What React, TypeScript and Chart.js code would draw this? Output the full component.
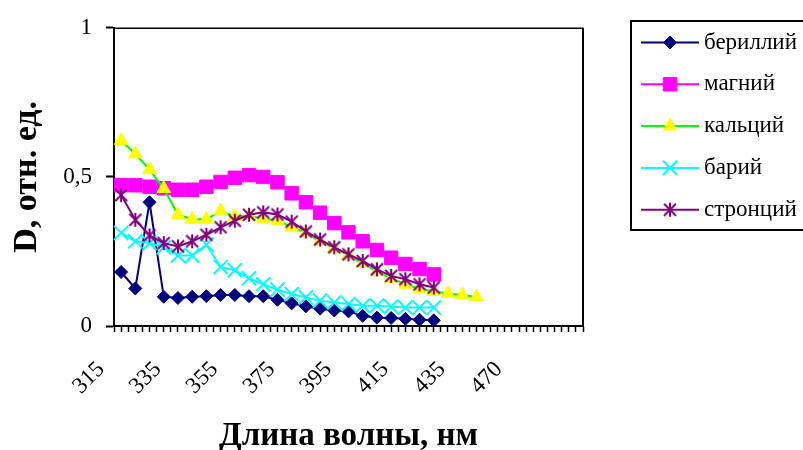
import React, { useEffect, useRef } from 'react';
import { Chart, registerables } from 'chart.js';
import { drawPoint } from 'chart.js/helpers';

Chart.register(...registerables);

// x-axis: category slots (2.5 nm each), labels shown every 8 slots, measurements every 2 slots
const tickLabels = ['315', '335', '355', '375', '395', '415', '435', '470'];
const categoryCount = 67;
const labelEvery = 8;
const pointEvery = 2;
const firstPointSlot = 1;

const seriesNames = ['бериллий', 'магний', 'кальций', 'барий', 'стронций'];

const beryllium = [0.181, 0.126, 0.415, 0.098, 0.094, 0.098, 0.1, 0.104, 0.104, 0.1, 0.1, 0.088, 0.076, 0.066, 0.058, 0.052, 0.049, 0.034, 0.028, 0.027, 0.024, 0.021, 0.019];
const magnesium = [0.472, 0.472, 0.467, 0.462, 0.457, 0.457, 0.467, 0.483, 0.497, 0.506, 0.5, 0.482, 0.445, 0.415, 0.38, 0.345, 0.314, 0.284, 0.255, 0.229, 0.208, 0.191, 0.173];
const calcium = [0.622, 0.577, 0.524, 0.461, 0.373, 0.358, 0.358, 0.386, 0.367, 0.37, 0.36, 0.354, 0.332, 0.313, 0.284, 0.26, 0.237, 0.21, 0.182, 0.16, 0.14, 0.125, 0.116, 0.109, 0.104, 0.097];
const barium = [0.312, 0.284, 0.278, 0.264, 0.236, 0.236, 0.273, 0.198, 0.187, 0.16, 0.14, 0.122, 0.107, 0.096, 0.085, 0.079, 0.074, 0.068, 0.068, 0.065, 0.062, 0.062, 0.062];
const strontium = [0.439, 0.356, 0.304, 0.278, 0.267, 0.284, 0.306, 0.331, 0.353, 0.373, 0.381, 0.374, 0.35, 0.317, 0.29, 0.264, 0.24, 0.218, 0.19, 0.168, 0.157, 0.14, 0.129];

const yTicks = [0, 0.5, 1];

const categories = Array.from({ length: categoryCount }, (_, i) =>
  i % labelEvery === 0 && tickLabels[i / labelEvery] !== undefined ? tickLabels[i / labelEvery] : ''
);

function spread(values: number[]) {
  const arr: (number | null)[] = new Array(categoryCount).fill(null);
  values.forEach((v, k) => {
    arr[firstPointSlot + k * pointEvery] = v;
  });
  return arr;
}

const SERIF = '"Liberation Serif", "Times New Roman", serif';

function makeStar(color: string) {
  const c = document.createElement('canvas');
  c.width = 16;
  c.height = 16;
  const g = c.getContext('2d')!;
  g.strokeStyle = color;
  g.lineWidth = 2;
  g.beginPath();
  g.moveTo(2, 2);
  g.lineTo(14, 14);
  g.moveTo(14, 2);
  g.lineTo(2, 14);
  g.moveTo(8, 1);
  g.lineTo(8, 15);
  g.stroke();
  return c;
}

const frame = {
  id: 'frame',
  afterDraw(chart: any) {
    const { ctx, chartArea } = chart;
    ctx.save();
    ctx.strokeStyle = '#000';
    ctx.lineWidth = 1.5;
    ctx.beginPath();
    ctx.moveTo(chartArea.left, chartArea.top + 0.5);
    ctx.lineTo(chartArea.right, chartArea.top + 0.5);
    ctx.stroke();
    ctx.lineWidth = 2;
    ctx.beginPath();
    ctx.moveTo(chartArea.right, chartArea.top);
    ctx.lineTo(chartArea.right, chartArea.bottom);
    ctx.stroke();
    ctx.restore();
  },
};

const boxLegend = {
  id: 'boxLegend',
  afterDraw(chart: any) {
    const { ctx } = chart;
    const bx = 631, by = 21, bw = 200, bh = 209;
    ctx.save();
    ctx.fillStyle = '#fff';
    ctx.fillRect(bx, by, bw, bh);
    ctx.strokeStyle = '#000';
    ctx.lineWidth = 2;
    ctx.strokeRect(bx, by, bw, bh);
    chart.data.datasets.forEach((ds: any, i: number) => {
      const cy = 42.5 + i * 41.8;
      ctx.strokeStyle = ds.borderColor;
      ctx.lineWidth = 2;
      ctx.beginPath();
      ctx.moveTo(641, cy);
      ctx.lineTo(699, cy);
      ctx.stroke();
      ctx.fillStyle = ds.pointBackgroundColor;
      ctx.strokeStyle = ds.pointBorderColor;
      ctx.lineWidth = ds.pointBorderWidth;
      drawPoint(ctx, { pointStyle: ds.pointStyle, radius: ds.pointRadius, borderWidth: ds.pointBorderWidth, rotation: 0 } as any, 670, cy);
      ctx.fillStyle = '#000';
      ctx.font = `23px ${SERIF}`;
      ctx.textBaseline = 'middle';
      ctx.textAlign = 'left';
      ctx.fillText(ds.label, 704, cy);
    });
    ctx.restore();
  },
};

export default function App() {
  const ref = useRef<HTMLCanvasElement>(null);
  useEffect(() => {
    const star = makeStar('#800080');
    const mk = (i: number, values: number[], line: string, fill: string, stroke: string, style: any, radius: number, bw: number) => ({
      label: seriesNames[i],
      data: spread(values),
      borderColor: line,
      borderWidth: 2,
      pointBackgroundColor: fill,
      pointBorderColor: stroke,
      pointBorderWidth: bw,
      pointStyle: style,
      pointRadius: radius,
      pointHoverRadius: radius,
      spanGaps: true,
      tension: 0,
      order: 4 - i,
    });
    const chart = new Chart(ref.current!, {
      type: 'line',
      data: {
        labels: categories,
        datasets: [
          mk(0, beryllium, '#000080', '#000080', '#000080', 'rectRot', 6.5, 1),
          mk(1, magnesium, '#FF00FF', '#FF00FF', '#FF00FF', 'rect', 9.5, 1),
          mk(2, calcium, '#00FF00', '#FFFF00', '#FFFF00', 'triangle', 7.8, 1),
          mk(3, barium, '#00FFFF', '#00FFFF', '#00FFFF', 'crossRot', 10, 2),
          mk(4, strontium, '#800080', '#800080', '#800080', star, 8, 0),
        ] as any,
      },
      options: {
        responsive: false,
        animation: false,
        events: [],
        layout: { padding: { top: 24, right: 220, left: 0, bottom: 0 } },
        plugins: { legend: { display: false }, tooltip: { enabled: false } },
        scales: {
          x: {
            type: 'category',
            offset: false,
            grid: { offset: false, drawOnChartArea: false, tickLength: 6, tickWidth: 1.5, color: '#000', tickColor: '#000' },
            border: { color: '#000', width: 2 },
            ticks: {
              autoSkip: false,
              minRotation: 45,
              maxRotation: 45,
              padding: 24,
              labelOffset: -13,
              color: '#000',
              font: { family: SERIF, size: 23 },
              callback: (_v: any, i: number) => categories[i],
            },
            title: {
              display: true,
              text: 'Длина волны, нм',
              color: '#000',
              font: { family: SERIF, size: 33, weight: 'bold', lineHeight: 1 },
              padding: { top: 0, bottom: -3 },
            },
            afterFit: (s: any) => {
              s.height = 124;
            },
          },
          y: {
            min: 0,
            max: 1,
            afterBuildTicks: (s: any) => {
              s.ticks = yTicks.map((v) => ({ value: v }));
            },
            grid: { drawOnChartArea: false, tickLength: 8, tickWidth: 2, color: '#000', tickColor: '#000' },
            border: { color: '#000', width: 2 },
            ticks: {
              padding: 14,
              color: '#000',
              font: { family: SERIF, size: 23 },
              callback: (v: any) => String(v).replace('.', ','),
            },
            title: {
              display: true,
              text: 'D, отн. ед.',
              color: '#000',
              font: { family: SERIF, size: 34, weight: 'bold', lineHeight: 1 },
              padding: { top: 10, bottom: 0 },
            },
            afterFit: (s: any) => {
              s.width = 114;
            },
          },
        },
      } as any,
      plugins: [frame, boxLegend],
    });
    return () => chart.destroy();
  }, []);
  return (
    <div style={{ position: 'fixed', left: 0, top: 0, width: 803, height: 450, background: '#fff' }}>
      <canvas ref={ref} width={803} height={450} style={{ display: 'block' }} />
    </div>
  );
}
